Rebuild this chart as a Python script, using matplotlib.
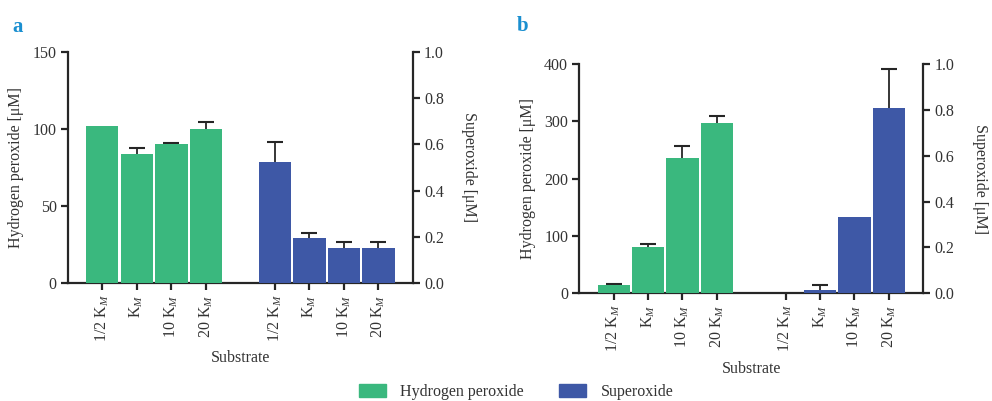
import numpy as np
import matplotlib
matplotlib.use("Agg")
import matplotlib.pyplot as plt
from matplotlib.patches import Patch

plt.rcParams['font.family'] = ['Liberation Serif', 'DejaVu Serif']
plt.rcParams['mathtext.fontset'] = 'custom'
plt.rcParams['mathtext.rm'] = 'Liberation Serif'
plt.rcParams['mathtext.it'] = 'Liberation Serif:italic'

# ---------------- data ----------------
categories = ["1/2 K$_{\\mathit{M}}$", "K$_{\\mathit{M}}$", "10 K$_{\\mathit{M}}$", "20 K$_{\\mathit{M}}$"]
panel_letters = ["a", "b"]

a_h2o2 = [102.0, 84.0, 90.3, 100.0]
a_h2o2_err = [np.nan, 3.4, 0.9, 4.5]
a_sup = [0.524, 0.195, 0.152, 0.152]
a_sup_err = [0.088, 0.023, 0.024, 0.024]

b_h2o2 = [14.5, 80.8, 236.0, 297.0]
b_h2o2_err = [1.2, 4.7, 21.5, 12.8]
b_sup = [0.0, 0.013, 0.333, 0.808]
b_sup_err = [np.nan, 0.025, np.nan, 0.172]

a_h2o2_ticks = [0, 50, 100, 150]
b_h2o2_ticks = [0, 100, 200, 300, 400]
sup_ticks = [0.0, 0.2, 0.4, 0.6, 0.8, 1.0]

series_names = ["Hydrogen peroxide", "Superoxide"]
ylabel_left = "Hydrogen peroxide [\u03bcM]"
ylabel_right = "Superoxide [\u03bcM]"
xlabel = "Substrate"

GREEN = "#3ab87e"
BLUE = "#3e58a6"
DARK = "#262626"
LETTER = "#1a8fd0"
TXT = "#333333"
FS = 11.5

fig = plt.figure(figsize=(9.92, 4.01), dpi=100)

panels = [
    dict(rect=[67.7/992, 1-283/401, 345.3/992, 231/401], h=a_h2o2, he=a_h2o2_err,
         s=a_sup, se=a_sup_err, hticks=a_h2o2_ticks, letter_xy=(18/992, 1-27/401)),
    dict(rect=[579.3/992, 1-293.3/401, 344/992, 229.3/401], h=b_h2o2, he=b_h2o2_err,
         s=b_sup, se=b_sup_err, hticks=b_h2o2_ticks, letter_xy=(523/992, 1-26/401)),
]

xg = np.arange(4)
xb = np.arange(4) + 5
width = 0.94

for i, p in enumerate(panels):
    ax = fig.add_axes(p['rect'])
    ax2 = ax.twinx()
    ax.bar(xg, p['h'], width=width, color=GREEN, zorder=3)
    he = np.array(p['he'], dtype=float)
    m = ~np.isnan(he)
    ax.errorbar(xg[m], np.array(p['h'])[m], yerr=he[m],
                fmt='none', ecolor=DARK, elinewidth=1.3, capsize=6, capthick=1.5, zorder=1)
    ax2.bar(xb, p['s'], width=width, color=BLUE, zorder=3)
    se = np.array(p['se'], dtype=float)
    m2 = ~np.isnan(se)
    ax2.errorbar(xb[m2], np.array(p['s'])[m2], yerr=se[m2],
                 fmt='none', ecolor=DARK, elinewidth=1.3, capsize=6, capthick=1.5, zorder=1)

    ax.set_xlim(-1, 9)
    ax.set_ylim(0, p['hticks'][-1])
    ax2.set_ylim(0, 1.0)
    ax.set_yticks(p['hticks'])
    ax.set_yticklabels([str(t) for t in p['hticks']])
    ax2.set_yticks(sup_ticks)
    ax2.set_yticklabels([f"{t:.1f}" for t in sup_ticks])
    ax.set_xticks(list(xg) + list(xb))
    ax.set_xticklabels(categories + categories, rotation=90)

    for a in (ax, ax2):
        a.spines['top'].set_visible(False)
        for sp in a.spines.values():
            sp.set_linewidth(1.6)
            sp.set_color(DARK)
        a.tick_params(axis='both', direction='out', length=5, width=1.6,
                      color=DARK, labelcolor=TXT, labelsize=FS, pad=3)
    ax2.spines['left'].set_visible(False)
    ax2.spines['bottom'].set_visible(False)
    ax.spines['right'].set_visible(False)

    ax.set_ylabel(ylabel_left, fontsize=FS, color=TXT, labelpad=6)
    ax2.set_ylabel(ylabel_right, fontsize=FS, color=TXT, rotation=270, labelpad=24)
    ax.set_xlabel(xlabel, fontsize=FS, color=TXT, labelpad=6)

    fig.text(p['letter_xy'][0], p['letter_xy'][1], panel_letters[i], fontsize=15,
             fontweight='bold', color=LETTER, ha='center', va='center')

handles = [Patch(color=GREEN), Patch(color=BLUE)]
fig.legend(handles, series_names, loc='center', bbox_to_anchor=(516/992, 1-392/401),
           ncol=2, frameon=False, fontsize=FS, handlelength=1.7, handleheight=0.8,
           handletextpad=0.9, columnspacing=2.2, labelcolor=TXT)

fig.savefig("out.png", dpi=100)
